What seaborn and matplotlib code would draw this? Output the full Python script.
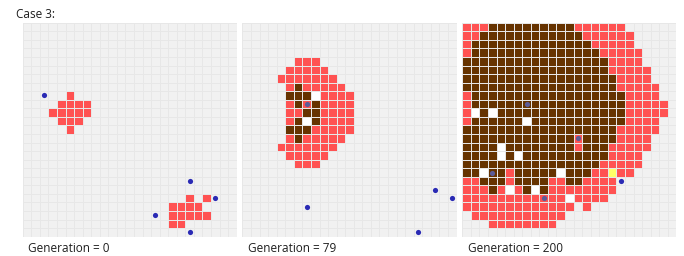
import matplotlib
matplotlib.use('Agg')
import matplotlib.pyplot as plt
import numpy as np
import seaborn as sns
from matplotlib.colors import ListedColormap

# cell states, one char per cell: '.' empty, R burning, B burnt, W bare, Y ignited
# every row is 25 cells written as 5 groups of 5 (spaces are only for reading)
STATE_CODES = {'.': 0, 'R': 1, 'B': 2, 'W': 3, 'Y': 4}
STATE_COLORS = ['#f1f1f1', '#ff5252', '#663300', '#ffffff', '#ffff66']

generations = [0, 79, 200]

grid_gen0 = [
    "..... ..... ..... ..... .....",
    "..... ..... ..... ..... .....",
    "..... ..... ..... ..... .....",
    "..... ..... ..... ..... .....",
    "..... ..... ..... ..... .....",
    "..... ..... ..... ..... .....",
    "..... ..... ..... ..... .....",
    "..... ..... ..... ..... .....",
    "..... R.... ..... ..... .....",
    "....R RRR.. ..... ..... .....",
    "...RR RRR.. ..... ..... .....",
    "....R RR... ..... ..... .....",
    "..... R.... ..... ..... .....",
    "..... ..... ..... ..... .....",
    "..... ..... ..... ..... .....",
    "..... ..... ..... ..... .....",
    "..... ..... ..... ..... .....",
    "..... ..... ..... ..... .....",
    "..... ..... ..... ..... .....",
    "..... ..... ..... ..... .....",
    "..... ..... ..... ....R .R...",
    "..... ..... ..... ..RRR R....",
    "..... ..... ..... ..RRR RR...",
    "..... ..... ..... ..RR. .....",
    "..... ..... ..... ..... .....",
]

grid_gen79 = [
    "..... ..... ..... ..... .....",
    "..... ..... ..... ..... .....",
    "..... ..... ..... ..... .....",
    "..... ..... ..... ..... .....",
    "..... .RRR. ..... ..... .....",
    "..... RRRRR ..... ..... .....",
    "....R RRRRR R.... ..... .....",
    "..... RBRRR RR... ..... .....",
    "..... BBBWR RRR.. ..... .....",
    "..... RBRBR RRR.. ..... .....",
    "..... RRBBR RRR.. ..... .....",
    "..... RBWBR RRR.. ..... .....",
    "..... BBBRR RRR.. ..... .....",
    "..... RBRRR RR... ..... .....",
    "....R RRRRR R.... ..... .....",
    "..... RRRRR ..... ..... .....",
    "..... .RRR. ..... ..... .....",
    "..... ..... ..... ..... .....",
    "..... ..... ..... ..... .....",
    "..... ..... ..... ..... .....",
    "..... ..... ..... ..... .....",
    "..... ..... ..... ..... .....",
    "..... ..... ..... ..... .....",
    "..... ..... ..... ..... .....",
    "..... ..... ..... ..... .....",
]

grid_gen200 = [
    "RRRBB BBBBB BBBRR RRRR. .....",
    "RRBBB BBBBB BBBBR RRRRR .....",
    "RBBBB BBBBB BBBBB RRRRR .....",
    "RBBBB BBBBB BBBBB BRRRR R....",
    "BBBBB BBBBB BBBBB BBRRR R....",
    "BBBBB BBBBB BBBBB BBRRR RR...",
    "BBBBB BBBBB BBBBB BBBRR RR...",
    "BBBBB BBBBB BBBBB BBBRR RRR..",
    "RBBBB BBBBB BBBBB BBBBR RRR..",
    "RBBBB BBBBB BBBBB BBBBR RRRR.",
    "RWBWB BBBBB BBBBB BBBBR RRRR.",
    "RBBBB BBWBB BBBBB BBBBR RRR..",
    "BBBBB BBBBB BBBBB BBBRR RRR..",
    "BBBBB BBBBB BBBRB BBBRR RR...",
    "BBBBW BBBBB BBBRB BBRRR RR...",
    "BBBBW BWBBB BBBBB BBRRR R....",
    "BBBBB BBBBB BBBBB BRRRR R....",
    "BBWBB RBBBB BWBBB RRYRR .....",
    "RRBBB RBBBB RRBBR RRR.. .....",
    "RRRBR WRBWB RRRRR RRR.. .....",
    "RRRRR RRRRR RRWRR RR... .....",
    "RRRRR RRRRR RRR.R ..... .....",
    ".RRRR RRRRR RR... ..... .....",
    "...RR RRRRR R.... ..... .....",
    "..... ..... ..... ..... .....",
]

# agent positions (col, row)
agents_gen0 = [(2, 8), (19, 18), (22, 20), (15, 22), (19, 24)]
agents_gen79 = [(7, 9), (22, 19), (24, 20), (7, 21), (20, 24)]
agents_gen200 = [(7, 9), (13, 13), (3, 17), (9, 20), (18, 18)]


def to_matrix(rows):
    return np.array([[STATE_CODES[ch] for ch in r.replace(' ', '')] for r in rows])


def draw_panel(ax, rows, agents):
    mat = to_matrix(rows)
    sns.heatmap(mat, ax=ax, cmap=ListedColormap(STATE_COLORS), vmin=-0.5, vmax=4.5,
                cbar=False, linewidths=0.45, linecolor='#e7e7e7', square=True,
                xticklabels=False, yticklabels=False)
    for c, r in agents:
        # agents standing on a coloured cell look faded in the original
        col = '#2a2ab4' if mat[r, c] == 0 else '#5c5c98'
        ax.scatter(c + 0.5, r + 0.5, s=14, color=col, zorder=5, linewidths=0)
    ax.set_xlabel('')
    ax.set_ylabel('')


W, H = 684, 256
fig = plt.figure(figsize=(W / 100, H / 100), dpi=100)
plt.rcParams['font.family'] = ['Open Sans', 'DejaVu Sans']

panel_left = [22.7, 242.5, 462.3]
size = 214
grids = [grid_gen0, grid_gen79, grid_gen200]
agents = [agents_gen0, agents_gen79, agents_gen200]

for i in range(3):
    ax = fig.add_axes([panel_left[i] / W, (H - 22.7 - size) / H, size / W, size / H])
    draw_panel(ax, grids[i], agents[i])
    fig.text((panel_left[i] + 5.5) / W, 1 - 248 / H, f'Generation = {generations[i]}',
             fontsize=8.5, color='#1e1e1e', va='center', ha='left')

fig.text(16.5 / W, 1 - 15 / H, 'Case 3:', fontsize=8.5, color='#1e1e1e', va='center', ha='left')

fig.savefig('out.png', dpi=100)
